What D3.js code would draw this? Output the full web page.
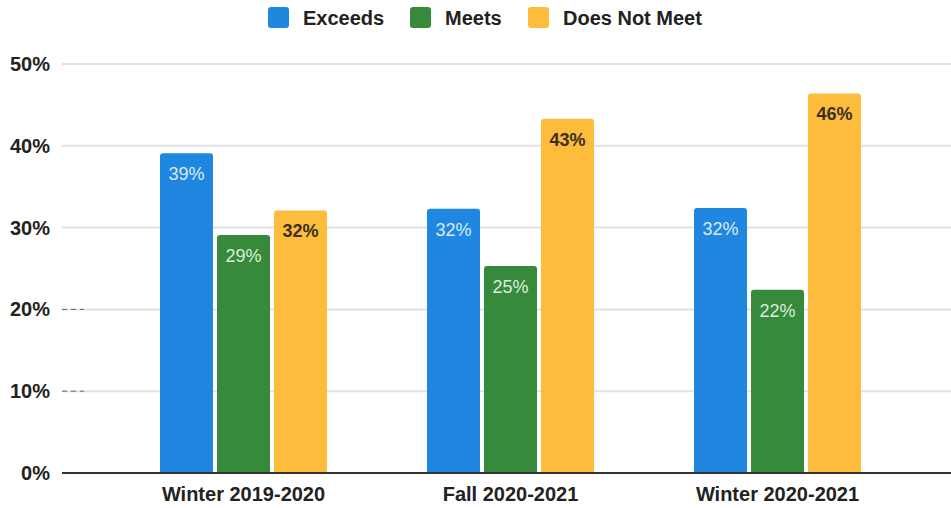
<!DOCTYPE html>
<html>
<head>
<meta charset="utf-8">
<script src="https://cdn.jsdelivr.net/npm/d3@7"></script>
<style>
  body { margin: 0; background: #fff; }
  text { font-family: "Liberation Sans", Arial, sans-serif; }
</style>
</head>
<body>
<svg id="chart" width="951" height="508"></svg>
<script>
// data
const terms = ["Winter 2019-2020", "Fall 2020-2021", "Winter 2020-2021"]
const seriesNames = ["Exceeds", "Meets", "Does Not Meet"]
const exceeds = [39.1, 32.3, 32.4]
const meets = [29.1, 25.3, 22.4]
const doesNotMeet = [32.1, 43.3, 46.4]
const yTicks = [0, 10, 20, 30, 40, 50]

const colors = ["#1f87e0", "#378a3c", "#fdbc3b"]
const labelColors = ["#dcebfb", "#dcebdc", "#3a3020"]

const svg = d3.select("#chart")
const width = +svg.attr("width")
const height = +svg.attr("height")

const x0 = d3.scaleBand().domain(terms).range([110, 911]).paddingInner(0).paddingOuter(0)
const x1 = d3.scaleBand().domain(seriesNames).range([0, 167]).paddingInner(0.07)
const y = d3.scaleLinear().domain([0, 50]).range([473, 64])

// gridlines
svg.append("g")
  .selectAll("line")
  .data(yTicks.filter(d => d > 0))
  .enter()
  .append("line")
    .attr("x1", 62)
    .attr("x2", width)
    .attr("y1", d => y(d))
    .attr("y2", d => y(d))
    .attr("stroke", "#e2e2e2")
    .attr("stroke-width", 2)

// little scan marks by 10% and 20%
svg.append("g")
  .selectAll("line")
  .data([10, 20])
  .enter()
  .append("line")
    .attr("x1", 62)
    .attr("x2", 84)
    .attr("y1", d => y(d))
    .attr("y2", d => y(d))
    .attr("stroke", "#666")
    .attr("stroke-dasharray", "5,4")

// y tick labels
svg.append("g")
  .selectAll("text")
  .data(yTicks)
  .enter()
  .append("text")
    .attr("x", 50)
    .attr("y", d => y(d))
    .attr("dy", "0.35em")
    .attr("text-anchor", "end")
    .attr("font-size", "20px")
    .attr("font-weight", "bold")
    .attr("fill", "#222")
    .text(d => d + "%")

// bars
const rows = terms.map((t, i) => ({
  term: t,
  vals: [exceeds[i], meets[i], doesNotMeet[i]]
}))

const groups = svg.append("g")
  .selectAll("g")
  .data(rows)
  .enter()
  .append("g")
    .attr("transform", d => `translate(${x0(d.term) + (x0.bandwidth() - 167) / 2},0)`)

groups.selectAll("path")
  .data(d => d.vals.map((v, j) => ({ name: seriesNames[j], v: v, j: j })))
  .enter()
  .append("path")
    .attr("d", d => {
      const bx = x1(d.name), bw = x1.bandwidth(), top = y(d.v), bot = y(0), r = 3
      return `M${bx},${bot}V${top + r}Q${bx},${top} ${bx + r},${top}H${bx + bw - r}Q${bx + bw},${top} ${bx + bw},${top + r}V${bot}Z`
    })
    .attr("fill", d => colors[d.j])

groups.selectAll("text")
  .data(d => d.vals.map((v, j) => ({ name: seriesNames[j], v: v, j: j })))
  .enter()
  .append("text")
    .attr("x", d => x1(d.name) + x1.bandwidth() / 2)
    .attr("y", d => y(d.v) + 27)
    .attr("text-anchor", "middle")
    .attr("font-size", "18px")
    .attr("font-weight", d => d.j == 2 ? "bold" : "normal")
    .attr("fill", d => labelColors[d.j])
    .text(d => Math.round(d.v) + "%")

// baseline
svg.append("line")
  .attr("x1", 62)
  .attr("x2", width)
  .attr("y1", y(0))
  .attr("y2", y(0))
  .attr("stroke", "#333")
  .attr("stroke-width", 2)

// x labels
svg.append("g")
  .selectAll("text")
  .data(terms)
  .enter()
  .append("text")
    .attr("x", d => x0(d) + x0.bandwidth() / 2)
    .attr("y", 501)
    .attr("text-anchor", "middle")
    .attr("font-size", "20px")
    .attr("font-weight", "bold")
    .attr("fill", "#222")
    .text(d => d)

// legend
const legendX = [268, 410, 528]
const legend = svg.append("g")
  .selectAll("g")
  .data(seriesNames)
  .enter()
  .append("g")
    .attr("transform", (d, i) => `translate(${legendX[i]},7)`)

legend.append("rect")
  .attr("width", 21)
  .attr("height", 21)
  .attr("rx", 3)
  .attr("fill", (d, i) => colors[i])

legend.append("text")
  .attr("x", 35)
  .attr("y", 11)
  .attr("dy", "0.35em")
  .attr("font-size", "20px")
  .attr("font-weight", "bold")
  .attr("fill", "#222")
  .text(d => d)
</script>
</body>
</html>
